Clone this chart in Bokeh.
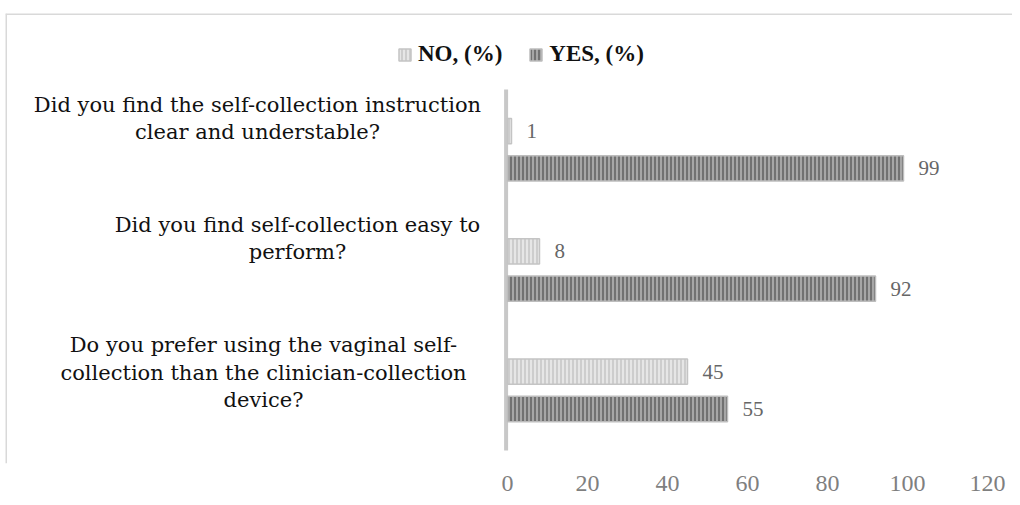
from bokeh.plotting import figure
from bokeh.models import Range1d, FixedTicker, Span, Legend, LegendItem, ColumnDataSource
from bokeh.core.properties import value
from bokeh.embed import file_html
from bokeh.resources import INLINE

questions = [
    "Did you find the self-collection instruction\nclear and understable?",
    "Did you find self-collection easy to\nperform?",
    "Do you prefer using the vaginal self-\ncollection than the clinician-collection\ndevice?",
]
no_pct = [1, 8, 45]
yes_pct = [99, 92, 55]
x_ticks = [0, 20, 40, 60, 80, 100, 120]
series_names = ["NO, (%)", "YES, (%)"]

# layout (pixel-derived) settings
label_centers = [-62.5, -52.5, -61.0]
SERIF = "Liberation Serif"
QFONT = "DejaVu Serif"

X0, X1 = -125.5, 126.25
Y_BOTTOM, Y_TOP = 2.608, -1.132

pos = list(range(len(questions)))
no_y = [p_ - 0.155 for p_ in pos]
yes_y = [p_ + 0.155 for p_ in pos]

p = figure(width=1012, height=497, output_backend="svg", toolbar_location=None,
           x_range=Range1d(X0, X1), y_range=Range1d(Y_BOTTOM, Y_TOP),
           min_border_left=5, min_border_right=0, min_border_top=13, min_border_bottom=34)
p.outline_line_color = None
p.grid.visible = False
p.yaxis.visible = False
p.background_fill_color = "white"
p.border_fill_color = "white"

xa = p.xaxis[0]
xa.ticker = FixedTicker(ticks=x_ticks)
xa.axis_line_color = None
xa.major_tick_line_color = None
xa.minor_tick_line_color = None
xa.major_label_text_font = SERIF
xa.major_label_text_font_size = "24px"
xa.major_label_text_color = "#7f7f7f"
xa.major_label_standoff = 6

# chart border (top and left)
p.add_layout(Span(location=Y_TOP, dimension="width", line_color="#d9d9d9", line_width=3))
p.add_layout(Span(location=X0, dimension="height", line_color="#d9d9d9", line_width=3))

# category axis line
p.segment(x0=[-0.35], y0=[-0.5], x1=[-0.35], y1=[2.5], line_color="#c8c8c8", line_width=4)

src_no = ColumnDataSource(dict(y=no_y, v=no_pct, t=[str(v) for v in no_pct]))
src_yes = ColumnDataSource(dict(y=yes_y, v=yes_pct, t=[str(v) for v in yes_pct]))

r_no = p.hbar(y="y", left=0, right="v", height=0.21, source=src_no,
              fill_color="#cdcdcd", hatch_pattern="vertical_line", hatch_color="#efefef",
              hatch_scale=4, hatch_weight=1.5, line_color="#c4c4c4", line_width=1.5)
r_yes = p.hbar(y="y", left=0, right="v", height=0.21, source=src_yes,
               fill_color="#a6a6a6", hatch_pattern="vertical_line", hatch_color="#5e5e5e",
               hatch_scale=4, hatch_weight=1.5, line_color="#bdbdbd", line_width=1.5)

for src in (src_no, src_yes):
    p.text(x="v", y="y", text="t", source=src, x_offset=15, text_align="left",
           text_baseline="middle", text_font=value(SERIF), text_font_size="21px",
           text_color="#666666")

p.text(x=label_centers, y=[q - 0.475 for q in pos], text=questions, text_align="center",
       text_baseline="top", text_font=value(QFONT), text_font_size="21px",
       text_color="#111111", text_line_height=1.15)

legend = Legend(items=[LegendItem(label=series_names[0], renderers=[r_no]),
                       LegendItem(label=series_names[1], renderers=[r_yes])],
                location=(392, 396), orientation="horizontal")
legend.label_text_font = SERIF
legend.label_text_font_style = "bold"
legend.label_text_font_size = "23px"
legend.label_text_color = "#111111"
legend.glyph_width = 15
legend.glyph_height = 15
legend.label_standoff = 6
legend.spacing = 26
legend.margin = 0
legend.padding = 8
legend.border_line_color = None
legend.background_fill_alpha = 0
p.add_layout(legend)

open("out.html", "w").write(file_html(p, INLINE))
